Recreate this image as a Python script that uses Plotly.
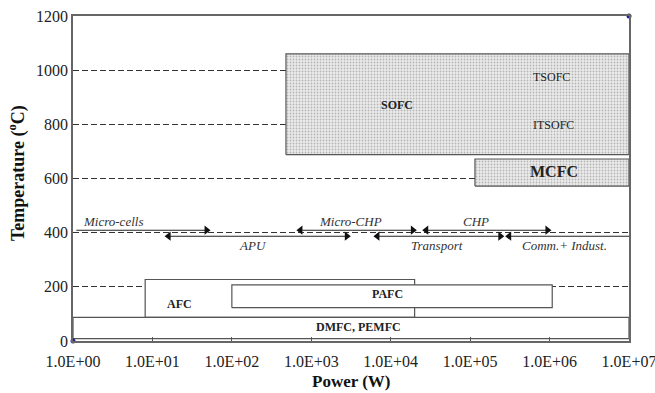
import plotly.graph_objects as go
import math

# Operating windows of fuel-cell families: power range (W) and temperature range (°C)
cells = ["AFC", "PAFC", "DMFC, PEMFC", "SOFC", "MCFC"]
p_low = [8.1, 100, 1.0, 480, 1.15e5]
p_high = [2.0e4, 1.08e6, 1.0e7, 1.0e7, 1.0e7]
t_low = [87, 123, 9, 688, 572]
t_high = [227, 207, 87, 1060, 672]
shaded = [False, False, False, True, True]

# Application ranges (W) drawn as arrows around 400 °C
apps = ["Micro-cells", "Micro-CHP", "CHP", "APU", "Transport", "Comm.+ Indust."]
app_from = [1.1, 730, 2.8e4, 16, 6.8e3, 3.1e5]
app_to = [48, 1.9e4, 9.4e5, 2.8e3, 2.4e5, 1.1e7]
app_temp = [409, 409, 409, 387, 387, 387]
app_head_start = [False, True, True, True, True, True]
app_head_end = [True, True, True, True, True, False]
app_label_x = [1.25, 3.1e3, 1.2e5, 182, 3.8e4, 1.56e6]
app_label_t = [442, 442, 442, 354, 354, 354]

# Text inside the boxes
box_text = ["<b>SOFC</b>", "TSOFC", "ITSOFC", "<b>MCFC</b>", "<b>PAFC</b>", "<b>AFC</b>", "<b>DMFC, PEMFC</b>"]
box_text_x = [1.21e4, 5.8e5, 5.8e5, 1.14e6, 9.06e3, 22, 3.92e3]
box_text_t = [871, 975, 797, 625, 173, 136, 51]

x_ticks = [1, 10, 100, 1e3, 1e4, 1e5, 1e6, 1e7]
x_tick_text = ["1.0E+00", "1.0E+01", "1.0E+02", "1.0E+03", "1.0E+04", "1.0E+05", "1.0E+06", "1.0E+07"]
y_ticks = [0, 200, 400, 600, 800, 1000, 1200]

SERIF = "Liberation Serif"

fig = go.Figure()

for name, x0, x1, y0, y1, sh in zip(cells, p_low, p_high, t_low, t_high, shaded):
    kw = dict(
        x=[x0, x1, x1, x0, x0], y=[y0, y0, y1, y1, y0],
        mode="lines", fill="toself", name=name, hoverinfo="skip",
        line=dict(color="#555555", width=1.2),
    )
    if sh:
        kw["fillcolor"] = "#dcdcdc"
        kw["fillpattern"] = dict(shape=".", fgcolor="#7f7f7f", bgcolor="#ebebeb",
                                 size=3, solidity=0.28)
    else:
        kw["fillcolor"] = "white"
    fig.add_trace(go.Scatter(**kw))

# Application arrows: a line with filled triangular heads at the chosen ends
for x0, x1, t, hs, he in zip(app_from, app_to, app_temp, app_head_start, app_head_end):
    fig.add_trace(go.Scatter(x=[x0, x1], y=[t, t], mode="lines", cliponaxis=False,
                             line=dict(color="#222222", width=1.1), hoverinfo="skip"))
    hx, hsym = [], []
    if hs:
        hx.append(x0)
        hsym.append("triangle-left")
    if he:
        hx.append(x1)
        hsym.append("triangle-right")
    fig.add_trace(go.Scatter(x=hx, y=[t] * len(hx), mode="markers", cliponaxis=False,
                             marker=dict(symbol=hsym, size=8, color="#111111",
                                         line=dict(width=0)),
                             hoverinfo="skip"))

# Corner markers
fig.add_trace(go.Scatter(x=[1, 1e7], y=[0, 1200], mode="markers",
                         marker=dict(color="#1f1f8f", size=5), cliponaxis=False,
                         hoverinfo="skip"))

annotations = []
for name, lx, lt in zip(apps, app_label_x, app_label_t):
    anchor = "left" if name == "Micro-cells" else "center"
    annotations.append(dict(
        x=math.log10(lx), y=lt, xref="x", yref="y", text="<i>" + name + "</i>",
        showarrow=False, xanchor=anchor, yanchor="middle",
        font=dict(family=SERIF, size=13, color="#333333"),
    ))

for txt, lx, lt in zip(box_text, box_text_x, box_text_t):
    size = 16 if txt == "<b>MCFC</b>" else 12
    anchor = "left" if txt in ("TSOFC", "ITSOFC") else "center"
    annotations.append(dict(
        x=math.log10(lx), y=lt, xref="x", yref="y", text=txt,
        showarrow=False, xanchor=anchor, yanchor="middle",
        font=dict(family=SERIF, size=size, color="#222222"),
    ))

# Axis titles
annotations.append(dict(
    x=0.5, y=-0.126, xref="paper", yref="paper", text="<b>Power (W)</b>",
    showarrow=False, xanchor="center", yanchor="middle",
    font=dict(family=SERIF, size=17, color="#111111"),
))
annotations.append(dict(
    x=-0.1007, y=0.517, xref="paper", yref="paper",
    text="<b>Temperature (<sup>o</sup>C)</b>", textangle=-90,
    showarrow=False, xanchor="center", yanchor="middle",
    font=dict(family=SERIF, size=18, color="#111111"),
))

fig.update_layout(
    width=655, height=393,
    margin=dict(l=73, r=26, t=16, b=52),
    paper_bgcolor="white", plot_bgcolor="white",
    showlegend=False,
    font=dict(family=SERIF, color="#222222"),
    annotations=annotations,
    xaxis=dict(
        type="log", range=[0, 7], tickvals=x_ticks, ticktext=x_tick_text,
        ticks="inside", ticklen=4, tickcolor="#555555",
        showline=True, linecolor="#666666", linewidth=1.5, mirror=True,
        showgrid=False, zeroline=False, automargin=False,
        ticklabeloverflow="allow", ticklabelstandoff=5,
        tickfont=dict(family=SERIF, size=16, color="#222222"),
    ),
    yaxis=dict(
        range=[0, 1200], tickvals=y_ticks,
        ticks="", showline=True, linecolor="#666666", linewidth=1.5, mirror=True,
        showgrid=True, gridcolor="#333333", gridwidth=1.3, griddash="6px,3px",
        zeroline=False, automargin=False,
        tickfont=dict(family=SERIF, size=16, color="#222222"),
    ),
)

fig.write_html("out.html")
